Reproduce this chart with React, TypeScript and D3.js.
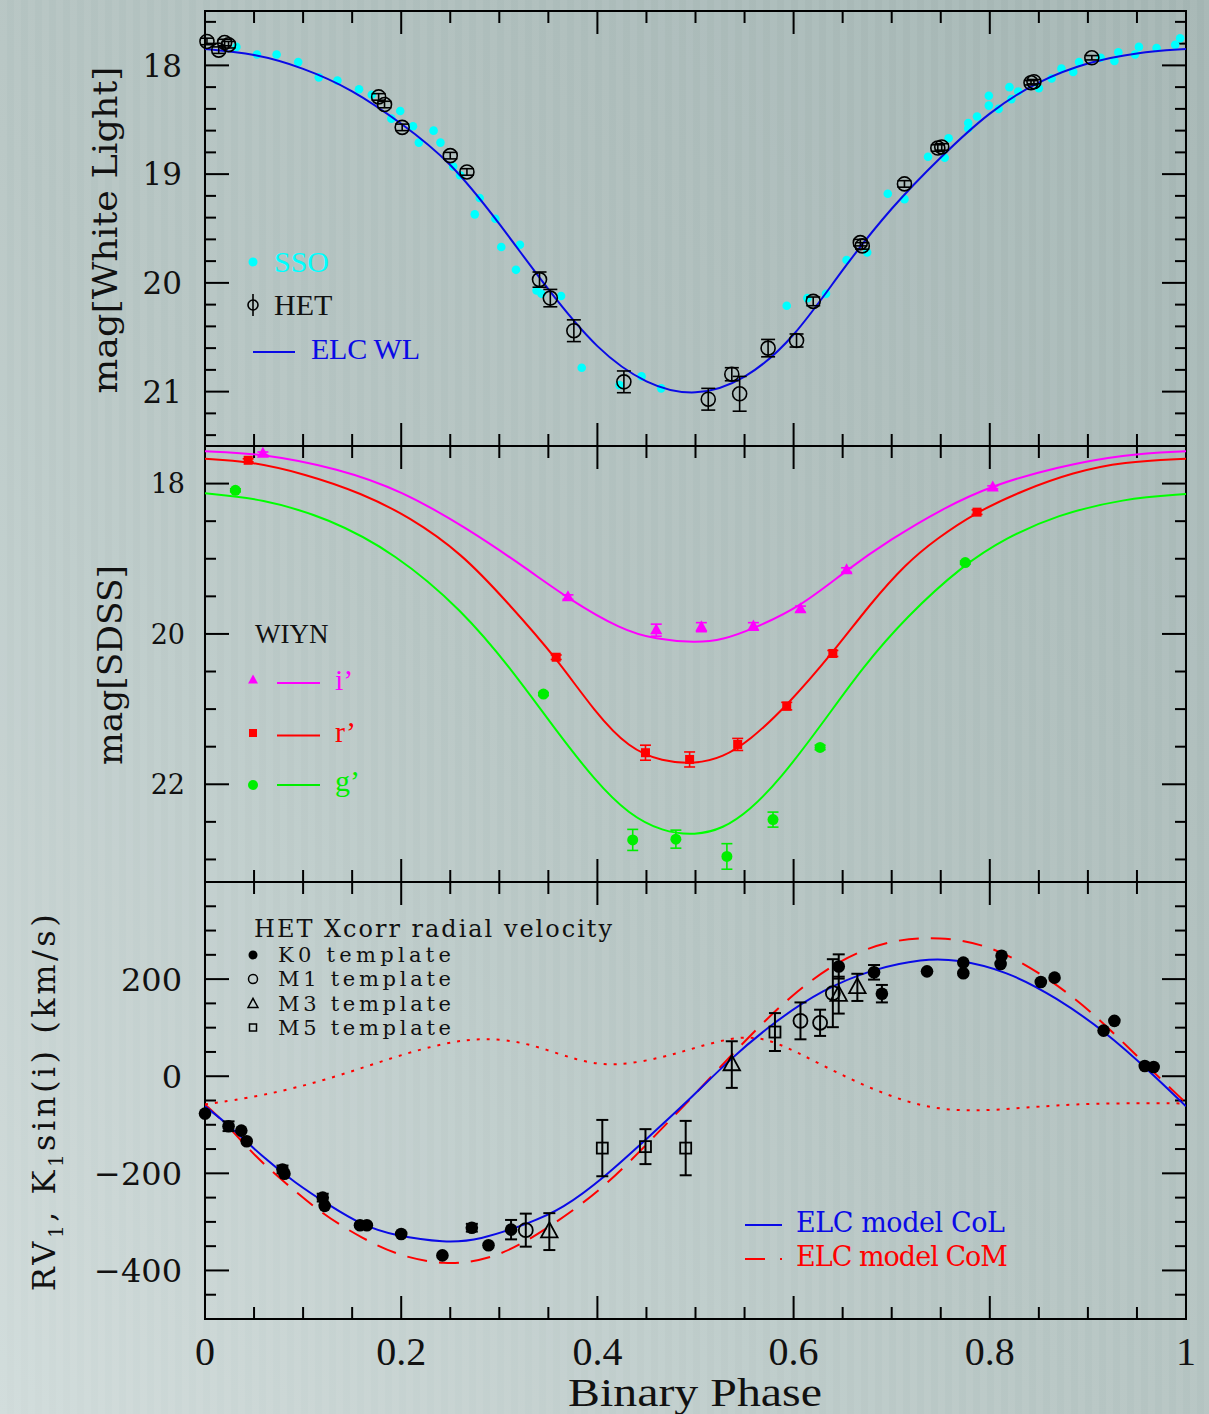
import React from 'react';
import * as d3 from 'd3';

// ---- top panel: white light (phase, mag)
const wlModel: [number, number][] = [
  [0, 17.85], [0.05, 17.89], [0.1, 18.02], [0.15, 18.22], [0.2, 18.53], [0.25, 18.88],
  [0.3, 19.45], [0.35, 20.07], [0.4, 20.62], [0.45, 20.94], [0.5, 21.05], [0.55, 20.9],
  [0.6, 20.52], [0.65, 19.87], [0.7, 19.3], [0.75, 18.84], [0.8, 18.42], [0.85, 18.14],
  [0.9, 17.97], [0.95, 17.88], [1, 17.85],
];
const ssoPoints: [number, number][] = [
  [0.032, 17.83], [0.053, 17.9], [0.073, 17.9], [0.095, 17.97], [0.116, 18.11], [0.135, 18.14],
  [0.157, 18.22], [0.17, 18.27], [0.19, 18.49], [0.199, 18.42], [0.212, 18.56], [0.218, 18.71],
  [0.233, 18.6], [0.24, 18.71], [0.253, 18.93], [0.26, 19.01], [0.275, 19.37], [0.28, 19.22],
  [0.296, 19.41], [0.302, 19.67], [0.321, 19.65], [0.317, 19.88], [0.338, 20.07], [0.343, 20.1],
  [0.363, 20.12], [0.384, 20.78], [0.4225, 20.94], [0.445, 20.86], [0.465, 20.97], [0.593, 20.21],
  [0.614, 20.14], [0.633, 20.1], [0.654, 19.79], [0.675, 19.72], [0.696, 19.18], [0.713, 19.23],
  [0.737, 18.84], [0.754, 18.85], [0.758, 18.67], [0.778, 18.53], [0.778, 18.58], [0.787, 18.47],
  [0.799, 18.28], [0.799, 18.37], [0.809, 18.4], [0.82, 18.2], [0.822, 18.31], [0.829, 18.24],
  [0.85, 18.21], [0.863, 18.12], [0.873, 18.03], [0.885, 18.06], [0.891, 17.97], [0.913, 17.93],
  [0.927, 17.96], [0.931, 17.88], [0.948, 17.9], [0.952, 17.83], [0.97, 17.84], [0.989, 17.81],
  [0.994, 17.75],
];
// phase, mag, error
const hetPoints: [number, number, number][] = [
  [0.002, 17.78, 0.03], [0.014, 17.86, 0.03], [0.02, 17.79, 0.03], [0.024, 17.81, 0.03],
  [0.177, 18.29, 0.03], [0.183, 18.36, 0.03], [0.201, 18.57, 0.03], [0.25, 18.83, 0.03],
  [0.267, 18.98, 0.03], [0.341, 19.97, 0.07], [0.352, 20.14, 0.08], [0.376, 20.44, 0.1],
  [0.427, 20.91, 0.1], [0.513, 21.07, 0.1], [0.537, 20.84, 0.06], [0.545, 21.02, 0.16],
  [0.574, 20.6, 0.08], [0.603, 20.53, 0.06], [0.62, 20.17, 0.04], [0.668, 19.63, 0.03],
  [0.67, 19.66, 0.03], [0.713, 19.09, 0.03], [0.747, 18.76, 0.03], [0.751, 18.75, 0.03],
  [0.842, 18.16, 0.02], [0.845, 18.15, 0.02], [0.904, 17.93, 0.02],
];

// ---- middle panel: WIYN SDSS
const iModel: [number, number][] = [
  [0, 17.57], [0.06, 17.6], [0.136, 17.8], [0.2, 18.09], [0.268, 18.6], [0.33, 19.15],
  [0.37, 19.53], [0.425, 19.95], [0.459, 20.07], [0.5, 20.12], [0.528, 20.08], [0.559, 19.93],
  [0.607, 19.64], [0.654, 19.15], [0.698, 18.75], [0.752, 18.33], [0.803, 18.02], [0.868, 17.78],
  [0.936, 17.61], [1, 17.57],
];
const rModel: [number, number][] = [
  [0, 17.67], [0.044, 17.7], [0.102, 17.87], [0.16, 18.13], [0.208, 18.44], [0.262, 18.93],
  [0.309, 19.59], [0.357, 20.3], [0.398, 21.05], [0.432, 21.52], [0.466, 21.7], [0.5, 21.73],
  [0.528, 21.64], [0.555, 21.42], [0.593, 20.96], [0.64, 20.25], [0.678, 19.6], [0.715, 19.06],
  [0.745, 18.74], [0.786, 18.38], [0.834, 18.09], [0.885, 17.85], [0.936, 17.71], [1, 17.67],
];
const gModel: [number, number][] = [
  [0, 18.13], [0.058, 18.2], [0.126, 18.46], [0.194, 18.93], [0.262, 19.68], [0.313, 20.48],
  [0.357, 21.27], [0.398, 21.96], [0.432, 22.4], [0.466, 22.63], [0.5, 22.68], [0.528, 22.59],
  [0.555, 22.35], [0.586, 21.94], [0.63, 21.18], [0.67, 20.45], [0.715, 19.77], [0.773, 19.08],
  [0.817, 18.72], [0.868, 18.42], [0.936, 18.2], [1, 18.14],
];
const iPoints: [number, number, number][] = [
  [0.059, 17.6, 0.02], [0.37, 19.51, 0.03], [0.46, 19.95, 0.08], [0.506, 19.91, 0.06],
  [0.559, 19.9, 0.05], [0.607, 19.67, 0.04], [0.654, 19.15, 0.03], [0.803, 18.05, 0.02],
];
const rPoints: [number, number, number][] = [
  [0.044, 17.69, 0.02], [0.358, 20.31, 0.03], [0.449, 21.58, 0.1], [0.494, 21.67, 0.1],
  [0.543, 21.47, 0.08], [0.593, 20.96, 0.05], [0.64, 20.26, 0.04], [0.787, 18.38, 0.03],
];
const gPoints: [number, number, number][] = [
  [0.031, 18.09, 0.02], [0.345, 20.8, 0.02], [0.436, 22.74, 0.14], [0.48, 22.73, 0.12],
  [0.532, 22.96, 0.17], [0.579, 22.47, 0.1], [0.627, 21.51, 0.03], [0.775, 19.05, 0.02],
];

// ---- bottom panel: radial velocity (phase, km/s)
const colModel: [number, number][] = [
  [0, -62], [0.024, -100], [0.058, -165], [0.092, -220], [0.126, -265], [0.16, -307],
  [0.194, -329], [0.245, -343], [0.279, -338], [0.33, -303], [0.364, -274], [0.408, -207],
  [0.449, -131], [0.494, -48], [0.535, 35], [0.579, 110], [0.63, 179], [0.681, 221],
  [0.732, 242], [0.766, 241], [0.817, 217], [0.868, 162], [0.919, 90], [0.963, 10], [1, -62],
];
const comModel: [number, number][] = [
  [0, -58], [0.024, -103], [0.051, -165], [0.082, -220], [0.119, -283], [0.16, -334],
  [0.2, -372], [0.245, -388], [0.279, -381], [0.313, -358], [0.357, -303], [0.408, -228],
  [0.459, -122], [0.501, -34], [0.545, 62], [0.596, 165], [0.647, 241], [0.698, 281],
  [0.749, 288], [0.8, 270], [0.851, 214], [0.902, 138], [0.953, 35], [1, -55],
];
const diffModel: [number, number][] = [
  [0, -58], [0.058, -41], [0.126, -7], [0.194, 41], [0.245, 69], [0.285, 80], [0.33, 69],
  [0.38, 31], [0.418, 20], [0.466, 38], [0.5, 59], [0.545, 84], [0.579, 76], [0.63, 21],
  [0.681, -28], [0.732, -65], [0.783, -73], [0.834, -65], [0.902, -55], [1, -56],
];
const k0Points: [number, number, number][] = [
  [0, -77, 0], [0.024, -103, 10], [0.037, -112, 0], [0.0425, -134, 0], [0.079, -192, 8],
  [0.081, -201, 0], [0.12, -250, 8], [0.122, -267, 0], [0.158, -307, 0], [0.165, -307, 0],
  [0.2, -325, 0], [0.242, -369, 0], [0.272, -312, 8], [0.289, -348, 0], [0.312, -316, 20],
  [0.646, 226, 25], [0.682, 214, 15], [0.69, 170, 18], [0.736, 216, 0], [0.773, 234, 0],
  [0.773, 212, 0], [0.812, 248, 0], [0.811, 231, 0], [0.852, 194, 0], [0.866, 203, 0],
  [0.916, 94, 0], [0.927, 114, 0], [0.958, 21, 0], [0.967, 19, 0],
];
const m1Points: [number, number, number][] = [
  [0.327, -317, 34], [0.607, 114, 38], [0.627, 110, 27], [0.64, 171, 70],
];
const m3Points: [number, number, number][] = [
  [0.351, -320, 38], [0.537, 24, 48], [0.646, 167, 38], [0.665, 183, 28],
];
const m5Points: [number, number, number][] = [
  [0.405, -148, 58], [0.449, -145, 36], [0.49, -148, 56], [0.581, 91, 39],
];

const phaseTicks = [0, 0.2, 0.4, 0.6, 0.8, 1];
const phaseLabels = ['0', '0.2', '0.4', '0.6', '0.8', '1'];
const wlTicks = [18, 19, 20, 21];
const sdssTicks = [18, 20, 22];
const rvTicks = [200, 0, -200, -400];
const rvLabels = ['200', '0', '\u2212200', '\u2212400'];
const rvLegend = ['K0 template', 'M1 template', 'M3 template', 'M5 template'];

const MONO = "'DejaVu Serif', serif";
const TIMES = "'Liberation Serif', 'Times New Roman', serif";

const x = d3.scaleLinear().domain([0, 1]).range([205, 1186]);
const yWL = d3.scaleLinear().domain([17.5, 21.5]).range([11, 446]);
const ySD = d3.scaleLinear().domain([17.5, 23.3]).range([446, 882]);
const yRV = d3.scaleLinear().domain([-500, 400]).range([1319, 882]);

const xMinor = d3.range(1, 20).map((v) => v / 20);

function Frame({ y, major, minor, clipId }: any) {
  const [b, t] = y.range();
  const top = Math.min(b, t), bot = Math.max(b, t);
  const L = 205, R = 1186;
  const lines: any[] = [];
  xMinor.forEach((p, i) => {
    const len = Math.abs(p * 5 - Math.round(p * 5)) < 1e-6 ? 23 : 12;
    lines.push(<line key={'xt' + i} x1={x(p)} x2={x(p)} y1={top} y2={top + len} />);
    lines.push(<line key={'xb' + i} x1={x(p)} x2={x(p)} y1={bot} y2={bot - len} />);
  });
  minor.forEach((v: number, i: number) => {
    const len = major.some((m: number) => Math.abs(m - v) < 1e-6) ? 24 : 11;
    lines.push(<line key={'yl' + i} x1={L} x2={L + len} y1={y(v)} y2={y(v)} />);
    lines.push(<line key={'yr' + i} x1={R} x2={R - len} y1={y(v)} y2={y(v)} />);
  });
  return (
    <g stroke="#000" strokeWidth={2} fill="none">
      <clipPath id={clipId}><rect x={L} y={top} width={R - L} height={bot - top} /></clipPath>
      {lines}
      <rect x={L} y={top} width={R - L} height={bot - top} />
    </g>
  );
}

function ErrBar({ cx, y1, y2, w, color, sw = 1.6 }: any) {
  return (
    <g stroke={color} strokeWidth={sw}>
      <line x1={cx} x2={cx} y1={y1} y2={y2} />
      <line x1={cx - w / 2} x2={cx + w / 2} y1={y1} y2={y1} />
      <line x1={cx - w / 2} x2={cx + w / 2} y1={y2} y2={y2} />
    </g>
  );
}

const tri = (cx: number, cy: number, s: number) =>
  `M${cx},${cy - s * 0.62}L${cx + s * 0.55},${cy + s * 0.38}L${cx - s * 0.55},${cy + s * 0.38}Z`;

export default function App() {
  const smooth = (y: any) =>
    d3.line<[number, number]>().x((d) => x(d[0])).y((d) => y(d[1])).curve(d3.curveBasis);
  const lineWL = smooth(yWL);
  const lineSD = smooth(ySD);
  const lineRV = smooth(yRV);

  return (
    <svg width={1209} height={1414} style={{ position: 'absolute', left: 0, top: 0, display: 'block' }}>
      <defs>
        <linearGradient id="bg" x1="0" y1="1" x2="1" y2="0">
          <stop offset="0" stopColor="#d0dbda" />
          <stop offset="0.45" stopColor="#b6c5c3" />
          <stop offset="1" stopColor="#a4b5b3" />
        </linearGradient>
        <pattern id="stripes" width="14" height="20" patternUnits="userSpaceOnUse">
          <rect x="0" y="0" width="7" height="20" fill="#ffffff" opacity="0.05" />
        </pattern>
      </defs>
      <rect x={0} y={0} width={1209} height={1414} fill="url(#bg)" />
      <rect x={0} y={0} width={1209} height={1414} fill="url(#stripes)" />

      {/* ---------- top panel ---------- */}
      <Frame y={yWL} major={wlTicks} minor={d3.range(88, 108).map((v) => v / 5)} clipId="c1" />
      <g fill="#00ffff">
        {ssoPoints.map((d, i) => <circle key={i} cx={x(d[0])} cy={yWL(d[1])} r={4.3} />)}
      </g>
      <path d={lineWL(wlModel) || ''} fill="none" stroke="#0a0ae6" strokeWidth={2} clipPath="url(#c1)" />
      <g fill="none" stroke="#000" strokeWidth={1.6}>
        {hetPoints.map((d, i) => (
          <g key={i}>
            <ErrBar cx={x(d[0])} y1={yWL(d[1] - d[2])} y2={yWL(d[1] + d[2])} w={14} color="#000" />
            <circle cx={x(d[0])} cy={yWL(d[1])} r={7} />
          </g>
        ))}
      </g>
      {wlTicks.map((t) => (
        <text key={t} x={182} y={yWL(t)} dy="0.36em" textAnchor="end" fontFamily={MONO} fontSize={31} fill="#111">
          {t}
        </text>
      ))}
      <text transform={`translate(117,230) rotate(-90)`} textAnchor="middle" fontFamily={MONO} fontSize={33}
        textLength={327} lengthAdjust="spacingAndGlyphs" fill="#111">mag[White Light]</text>
      {/* legend */}
      <circle cx={253} cy={262} r={4.5} fill="#00ffff" />
      <text x={274} y={272} fontFamily={TIMES} fontSize={30} fill="#00ffff">SSO</text>
      <g stroke="#000" strokeWidth={1.6} fill="none">
        <circle cx={253} cy={305} r={5} />
        <line x1={253} x2={253} y1={294} y2={316} />
      </g>
      <text x={274} y={315} fontFamily={TIMES} fontSize={30} fill="#111">HET</text>
      <line x1={253} x2={295} y1={352} y2={352} stroke="#0a0ae6" strokeWidth={2} />
      <text x={311} y={359} fontFamily={TIMES} fontSize={30} fill="#0a0ae6" textLength={109} lengthAdjust="spacing">ELC WL</text>

      {/* ---------- middle panel ---------- */}
      <Frame y={ySD} major={sdssTicks} minor={d3.range(36, 47).map((v) => v / 2)} clipId="c2" />
      <g fill="none" strokeWidth={2} clipPath="url(#c2)">
        <path d={lineSD(iModel) || ''} stroke="#ff00ff" />
        <path d={lineSD(rModel) || ''} stroke="#ff0000" />
        <path d={lineSD(gModel) || ''} stroke="#00ff00" />
      </g>
      {iPoints.map((d, i) => (
        <g key={'i' + i}>
          <ErrBar cx={x(d[0])} y1={ySD(d[1] - d[2])} y2={ySD(d[1] + d[2])} w={11} color="#ff00ff" />
          <path d={tri(x(d[0]), ySD(d[1]), 11)} fill="#ff00ff" />
        </g>
      ))}
      {rPoints.map((d, i) => (
        <g key={'r' + i}>
          <ErrBar cx={x(d[0])} y1={ySD(d[1] - d[2])} y2={ySD(d[1] + d[2])} w={11} color="#ff0000" />
          <rect x={x(d[0]) - 4.5} y={ySD(d[1]) - 4.5} width={9} height={9} fill="#ff0000" />
        </g>
      ))}
      {gPoints.map((d, i) => (
        <g key={'g' + i}>
          <ErrBar cx={x(d[0])} y1={ySD(d[1] - d[2])} y2={ySD(d[1] + d[2])} w={11} color="#00ee00" />
          <circle cx={x(d[0])} cy={ySD(d[1])} r={5.5} fill="#00ee00" />
        </g>
      ))}
      {sdssTicks.map((t) => (
        <text key={t} x={185} y={ySD(t)} dy="0.36em" textAnchor="end" fontFamily={MONO} fontSize={27} fill="#111">
          {t}
        </text>
      ))}
      <text transform={`translate(122,665) rotate(-90)`} textAnchor="middle" fontFamily={MONO} fontSize={34}
        textLength={200} lengthAdjust="spacingAndGlyphs" fill="#111">mag[SDSS]</text>
      {/* legend */}
      <text x={255} y={643} fontFamily={TIMES} fontSize={27} fill="#111">WIYN</text>
      <path d={tri(253, 680, 9)} fill="#ff00ff" />
      <line x1={277} x2={320} y1={683} y2={683} stroke="#ff00ff" strokeWidth={2} />
      <text x={335} y={690} fontFamily={TIMES} fontSize={30} fill="#ff00ff">i’</text>
      <rect x={249} y={729} width={8} height={8} fill="#ff0000" />
      <line x1={277} x2={320} y1={735.5} y2={735.5} stroke="#ff0000" strokeWidth={2} />
      <text x={335} y={742} fontFamily={TIMES} fontSize={30} fill="#ff0000">r’</text>
      <circle cx={253} cy={785} r={5} fill="#00ee00" />
      <line x1={277} x2={320} y1={785} y2={785} stroke="#00ee00" strokeWidth={2} />
      <text x={335} y={791} fontFamily={TIMES} fontSize={30} fill="#00ee00">g’</text>

      {/* ---------- bottom panel ---------- */}
      <Frame y={yRV} major={[-400, -200, 0, 200]} minor={d3.range(-450, 400, 50)} clipId="c3" />
      <g fill="none" clipPath="url(#c3)">
        <path d={lineRV(diffModel) || ''} stroke="#ff0000" strokeWidth={2} strokeDasharray="3,7" />
        <path d={lineRV(comModel) || ''} stroke="#ff0000" strokeWidth={2} strokeDasharray="20,12" />
        <path d={lineRV(colModel) || ''} stroke="#0a0ae6" strokeWidth={2} />
      </g>
      {k0Points.map((d, i) => (
        <g key={'k' + i}>
          {d[2] > 0 && <ErrBar cx={x(d[0])} y1={yRV(d[1] - d[2])} y2={yRV(d[1] + d[2])} w={12} color="#000" sw={2} />}
          <circle cx={x(d[0])} cy={yRV(d[1])} r={6.3} fill="#000" />
        </g>
      ))}
      {m1Points.map((d, i) => (
        <g key={'m1' + i}>
          <ErrBar cx={x(d[0])} y1={yRV(d[1] - d[2])} y2={yRV(d[1] + d[2])} w={12} color="#000" sw={2} />
          <circle cx={x(d[0])} cy={yRV(d[1])} r={7} fill="none" stroke="#000" strokeWidth={1.8} />
        </g>
      ))}
      {m3Points.map((d, i) => (
        <g key={'m3' + i}>
          <ErrBar cx={x(d[0])} y1={yRV(d[1] - d[2])} y2={yRV(d[1] + d[2])} w={12} color="#000" sw={2} />
          <path d={tri(x(d[0]), yRV(d[1]), 15)} fill="none" stroke="#000" strokeWidth={1.8} />
        </g>
      ))}
      {m5Points.map((d, i) => (
        <g key={'m5' + i}>
          <ErrBar cx={x(d[0])} y1={yRV(d[1] - d[2])} y2={yRV(d[1] + d[2])} w={12} color="#000" sw={2} />
          <rect x={x(d[0]) - 5.5} y={yRV(d[1]) - 5.5} width={11} height={11} fill="none" stroke="#000" strokeWidth={1.8} />
        </g>
      ))}
      {rvTicks.map((t, i) => (
        <text key={t} x={182} y={yRV(t)} dy="0.36em" textAnchor="end" fontFamily={MONO} fontSize={32} fill="#111">
          {rvLabels[i]}
        </text>
      ))}
      <text transform={`translate(55,1101) rotate(-90)`} textAnchor="middle" fontFamily={MONO} fontSize={32}
        letterSpacing={3.5} fill="#111">
        RV<tspan fontSize={20} dy={8}>1</tspan><tspan dy={-8}>, K</tspan>
        <tspan fontSize={20} dy={8}>1</tspan><tspan dy={-8}>sin(i) (km/s)</tspan>
      </text>
      {/* legend */}
      <text x={254} y={937} fontFamily={MONO} fontSize={24} fill="#111" textLength={358} lengthAdjust="spacing">
        HET Xcorr radial velocity
      </text>
      <circle cx={253} cy={955} r={4.5} fill="#000" />
      <circle cx={253} cy={979} r={4.5} fill="none" stroke="#000" strokeWidth={1.5} />
      <path d={tri(253, 1004, 9)} fill="none" stroke="#000" strokeWidth={1.5} />
      <rect x={249.5} y={1024} width={7} height={7} fill="none" stroke="#000" strokeWidth={1.5} />
      <text fontFamily={MONO} fontSize={21} fill="#111">
        {rvLegend.map((s, i) => (
          <tspan key={s} x={278} y={962 + i * 24.4} textLength={173} lengthAdjust="spacing">{s}</tspan>
        ))}
      </text>
      <line x1={745} x2={782} y1={1225} y2={1225} stroke="#0a0ae6" strokeWidth={2} />
      <text x={796} y={1232} fontFamily={MONO} fontSize={27} fill="#0a0ae6" textLength={209} lengthAdjust="spacing">ELC model CoL</text>
      <line x1={745} x2={765} y1={1259} y2={1259} stroke="#ff0000" strokeWidth={2} />
      <line x1={780} x2={782} y1={1259} y2={1259} stroke="#ff0000" strokeWidth={2} />
      <text x={796} y={1266} fontFamily={MONO} fontSize={27} fill="#ff0000" textLength={212} lengthAdjust="spacing">ELC model CoM</text>

      {/* x axis */}
      {phaseTicks.map((t, i) => (
        <text key={t} x={x(t)} y={1365} textAnchor="middle" fontFamily={TIMES} fontSize={40} fill="#111">
          {phaseLabels[i]}
        </text>
      ))}
      <text x={695} y={1406} textAnchor="middle" fontFamily={TIMES} fontSize={39} fill="#111"
        textLength={254} lengthAdjust="spacingAndGlyphs">Binary Phase</text>
    </svg>
  );
}
